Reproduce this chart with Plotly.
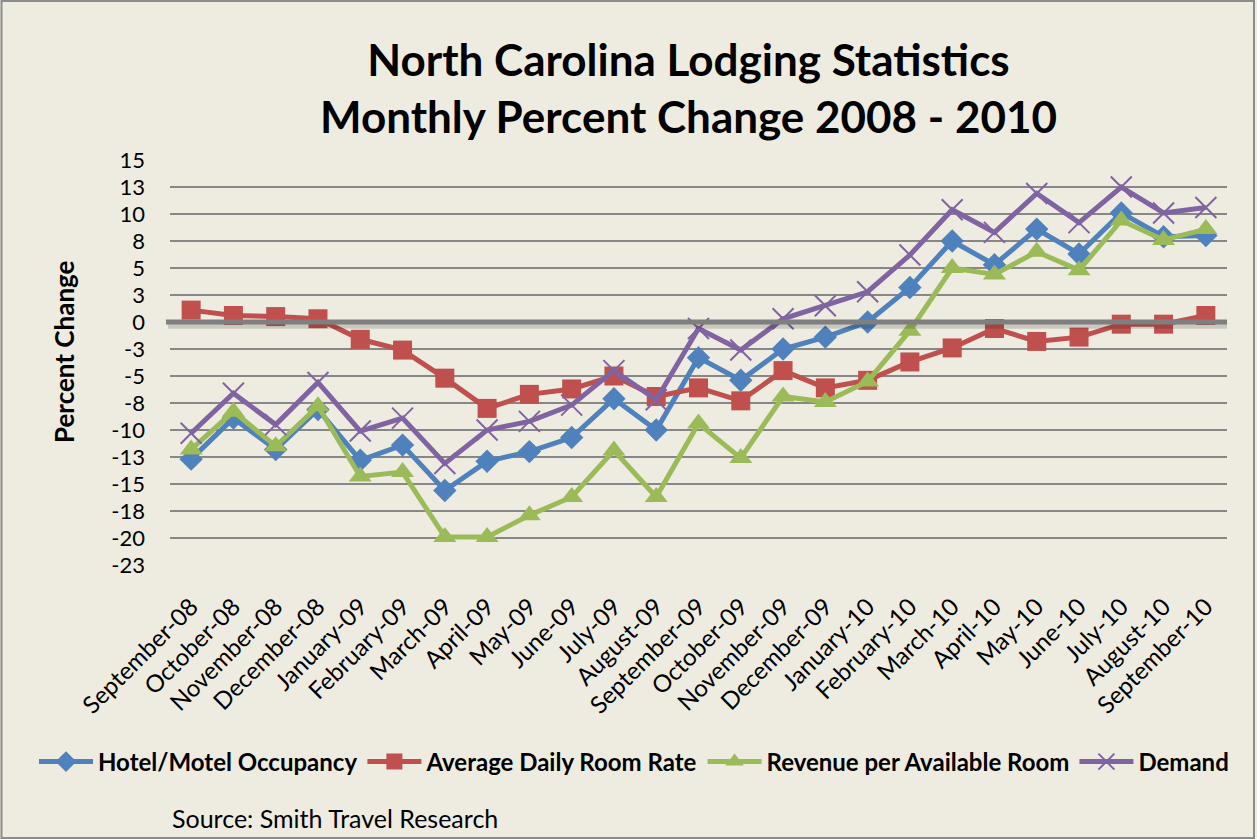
import plotly.graph_objects as go

months = ["September-08", "October-08", "November-08", "December-08", "January-09", "February-09",
          "March-09", "April-09", "May-09", "June-09", "July-09", "August-09", "September-09",
          "October-09", "November-09", "December-09", "January-10", "February-10", "March-10",
          "April-10", "May-10", "June-10", "July-10", "August-10", "September-10"]

occupancy = [-12.7, -8.9, -11.8, -8.1, -12.8, -11.4, -15.6, -12.9, -12.0, -10.7, -7.1, -10.0, -3.3,
             -5.4, -2.5, -1.4, 0.0, 3.2, 7.5, 5.3, 8.6, 6.3, 10.1, 7.9, 8.0]
adr = [1.1, 0.6, 0.5, 0.3, -1.6, -2.6, -5.2, -8.0, -6.7, -6.2, -5.0, -6.9, -6.1,
       -7.3, -4.5, -6.1, -5.4, -3.7, -2.4, -0.6, -1.8, -1.4, -0.2, -0.2, 0.6]
revpar = [-11.8, -8.3, -11.5, -7.8, -14.3, -13.9, -19.9, -19.9, -17.9, -16.2, -11.9, -16.2, -9.4,
          -12.6, -6.9, -7.4, -5.5, -0.8, 5.0, 4.4, 6.5, 4.8, 9.4, 7.6, 8.6]
demand = [-10.3, -6.6, -9.5, -5.6, -10.1, -8.9, -13.1, -10.0, -9.2, -7.7, -4.5, -7.2, -0.6,
          -2.6, 0.3, 1.5, 2.8, 6.2, 10.4, 8.3, 11.9, 9.2, 12.5, 10.1, 10.6]

tick_vals = [15, 12.5, 10, 7.5, 5, 2.5, 0, -2.5, -5, -7.5, -10, -12.5, -15, -17.5, -20, -22.5]
tick_text = ["15", "13", "10", "8", "5", "3", "0", "-3", "-5", "-8", "-10", "-13", "-15", "-18", "-20", "-23"]

FONT = "Lato, 'Open Sans', sans-serif"
BG = "#EEECE1"

series = [
    ("Hotel/Motel Occupancy", occupancy, "#4F81BD", "diamond", 18),
    ("Average Daily Room Rate", adr, "#C0504D", "square", 19),
    ("Revenue per Available Room", revpar, "#9BBB59", "triangle-up", 20),
    ("Demand", demand, "#8064A2", "x-thin-open", 21),
]

fig = go.Figure()
for name, vals, color, sym, size in series:
    fig.add_trace(go.Scatter(
        x=months, y=vals, name=name, mode="lines+markers",
        line=dict(color=color, width=5),
        marker=dict(symbol=sym, size=size, color=color,
                    line=dict(color=color, width=2 if sym == "x-thin-open" else 0)),
    ))

L, R, T, B = 170, 30, 160, 274
W, H = 1257, 839
pw, ph = W - L - R, H - T - B

def px(xp):
    return (xp - L) / pw

def py(yp):
    return (H - B - yp) / ph

fig.update_layout(
    width=W, height=H,
    margin=dict(l=L, r=R, t=T, b=B),
    paper_bgcolor=BG, plot_bgcolor=BG,
    font=dict(family=FONT, color="black", size=20),
    showlegend=True,
    legend=dict(orientation="h", x=px(34), y=py(762), xanchor="left", yanchor="middle",
                font=dict(size=24, family=FONT, weight="bold"), bgcolor="rgba(0,0,0,0)",
                itemwidth=54, tracegroupgap=0),
    xaxis=dict(type="category", range=[-0.5, len(months) - 0.5], showgrid=False,
               showline=False, zeroline=False, ticks="", tickangle=-45,
               ticklabelstandoff=22, tickfont=dict(size=24, family=FONT)),
    yaxis=dict(range=[-22.5, 15], tickvals=tick_vals, ticktext=tick_text, showgrid=True,
               gridcolor="#878787", gridwidth=2, zeroline=False, showline=False,
               ticks="", ticklabelstandoff=24, tickfont=dict(size=22, family=FONT)),
)

fig.add_annotation(text="<b>North Carolina Lodging Statistics<br>Monthly Percent Change 2008 - 2010</b>",
                   xref="paper", yref="paper", x=px(688), y=py(88), xanchor="center", yanchor="middle",
                   showarrow=False, font=dict(size=44, family=FONT), align="center")
fig.add_annotation(text="<b>Percent Change</b>", xref="paper", yref="paper", x=px(64), y=py(352),
                   textangle=-90, showarrow=False, font=dict(size=26, family=FONT),
                   xanchor="center", yanchor="middle")
fig.add_annotation(text="Source: Smith Travel Research", xref="paper", yref="paper", x=px(170),
                   y=py(818), xanchor="left", yanchor="middle", showarrow=False,
                   font=dict(size=25, family=FONT))

# zero line with soft shadow, drawn above the series like the original
fig.add_shape(type="line", xref="paper", yref="y", x0=px(168), x1=1.0, y0=-0.35, y1=-0.35,
              line=dict(color="rgba(0,0,0,0.15)", width=6), layer="above")
fig.add_shape(type="line", xref="paper", yref="y", x0=px(166), x1=1.0, y0=0, y1=0,
              line=dict(color="#7F7F7F", width=5), layer="above")
# outer chart border
fig.add_shape(type="rect", xref="paper", yref="paper", x0=px(1.5), x1=px(1254), y0=py(838), y1=py(1),
              line=dict(color="#8C8C8C", width=2), fillcolor="rgba(0,0,0,0)", layer="below")

fig.write_html("out.html", config={"displayModeBar": False},
               post_script="document.body.style.margin='0';")
